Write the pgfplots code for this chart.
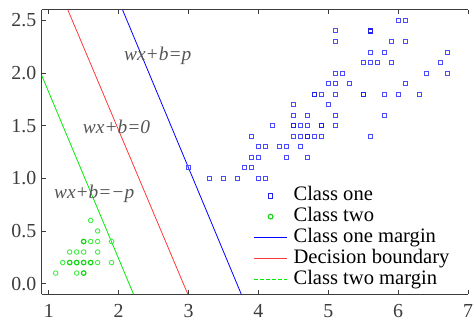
\documentclass[border=0pt]{standalone}
\usepackage{pgfplots}
\pgfplotsset{compat=1.18}
\usepackage{fontspec}
\setmainfont{Liberation Serif}
\definecolor{axgray}{RGB}{60,60,60}
\definecolor{txtgray}{RGB}{85,85,85}
\definecolor{cone}{RGB}{75,75,255}
\definecolor{conedark}{RGB}{35,35,235}
\definecolor{ctwo}{RGB}{60,235,60}
\definecolor{ctwodark}{RGB}{20,215,20}
\definecolor{mblue}{RGB}{0,0,255}
\definecolor{mred}{RGB}{255,55,55}
\definecolor{mgreen}{RGB}{0,235,0}
\begin{document}
\begin{tikzpicture}
\begin{axis}[
  scale only axis, width=429pt, height=286pt,
  xmin=0.9, xmax=7, ymin=-0.1, ymax=2.6,
  every non boxed y axis/.style={},
  axis x line*=box, axis y line*=left,
  y axis line style={-},
  axis line style={axgray, line width=1.1pt},
  xtick={1,2,3,4,5,6,7},
  xticklabels={1,2,3,4,5,6,7},
  ytick={0,0.5,1,1.5,2,2.5},
  yticklabels={0.0,0.5,1.0,1.5,2.0,2.5},
  tick align=inside, major tick length=4pt,
  tick style={axgray, line width=0.8pt},
  tick label style={font=\fontsize{20}{22}\selectfont\rmfamily, text=axgray},
  yticklabel style={inner sep=0pt, xshift=-5.3pt},
  xticklabel style={inner sep=0pt, yshift=-10pt},
  legend cell align=left,
  legend style={draw=none, fill=none, at={(0.4965,0.381)}, anchor=north west,
    inner sep=0pt, row sep=1.5pt, column sep=6pt,
    font=\fontsize{20.7}{22}\selectfont,
    nodes={inner sep=0pt, text height=15pt, text depth=4.5pt}},
]
\addplot[only marks, mark=square, mark size=2pt, mark options={draw=cone, fill=none, line width=1pt}, forget plot] coordinates {
(6.0,2.5)(6.1,2.5)
(5.1,2.4)(5.6,2.4)
(5.1,2.3)(5.9,2.3)(6.1,2.3)
(5.6,2.2)(5.8,2.2)(6.7,2.2)
(5.5,2.1)(5.6,2.1)(5.7,2.1)(5.9,2.1)(6.6,2.1)
(5.1,2.0)(5.2,2.0)(6.4,2.0)(6.7,2.0)
(5.0,1.9)(5.1,1.9)(5.3,1.9)(6.1,1.9)
(4.8,1.8)(4.9,1.8)(5.1,1.8)(5.5,1.8)(5.8,1.8)(6.0,1.8)(6.3,1.8)
(4.5,1.7)(5.0,1.7)
(4.5,1.6)(4.7,1.6)(5.1,1.6)(5.8,1.6)
(4.2,1.5)(4.5,1.5)(4.6,1.5)(4.7,1.5)(4.9,1.5)(5.1,1.5)
(3.9,1.4)(4.5,1.4)(4.6,1.4)(4.7,1.4)(4.8,1.4)(4.9,1.4)(5.6,1.4)
(4.0,1.3)(4.1,1.3)(4.3,1.3)(4.4,1.3)(4.6,1.3)
(3.9,1.2)(4.0,1.2)(4.4,1.2)(4.7,1.2)
(3.0,1.1)(3.8,1.1)(3.9,1.1)
(3.3,1.0)(3.5,1.0)(3.7,1.0)(4.0,1.0)(4.1,1.0)
};
% points that appear twice (drawn darker in the reference)
\addplot[only marks, mark=square, mark size=2pt, mark options={draw=conedark, fill=none, line width=1.1pt}, forget plot] coordinates {
(5.6,2.4)(4.8,1.8)(5.5,1.8)(4.5,1.5)(4.9,1.5)(4.7,1.4)
};
\addplot[only marks, mark=o, mark size=2.3pt, mark options={draw=ctwo, fill=none, line width=0.85pt}, forget plot] coordinates {
(1.6,0.6)
(1.7,0.5)
(1.5,0.4)(1.6,0.4)(1.7,0.4)(1.9,0.4)
(1.3,0.3)(1.4,0.3)(1.5,0.3)(1.7,0.3)
(1.2,0.2)(1.3,0.2)(1.4,0.2)(1.5,0.2)(1.6,0.2)(1.7,0.2)(1.9,0.2)
(1.1,0.1)(1.4,0.1)(1.5,0.1)
};
\addplot[only marks, mark=o, mark size=2.3pt, mark options={draw=ctwodark, fill=none, line width=1.05pt}, forget plot] coordinates {
(1.5,0.4)(1.3,0.2)(1.4,0.2)(1.5,0.2)(1.6,0.2)(1.5,0.1)
};
\addplot[draw=mblue, line width=0.8pt, forget plot] coordinates {(2.057,2.6)(3.755,-0.1)};
\addplot[draw=mred, line width=0.8pt, forget plot] coordinates {(1.274,2.6)(2.99,-0.1)};
\addplot[draw=mgreen, line width=0.8pt, forget plot] coordinates {(0.9,1.977)(2.213,-0.1)};
\addlegendimage{legend image code/.code={\draw[draw=conedark, line width=1.1pt] (14.2pt,-2.4pt) rectangle (18.8pt,2.4pt);}}
\addlegendentry{Class one}
\addlegendimage{legend image code/.code={\draw[draw=ctwodark, line width=1.1pt] (16.5pt,0pt) circle (2.4pt);}}
\addlegendentry{Class two}
\addlegendimage{legend image code/.code={\color{mblue}\draw[color=mblue, line width=1.2pt] (0pt,0pt) -- (33pt,0pt);}}
\addlegendentry{Class one margin}
\addlegendimage{legend image code/.code={\color{mred}\draw[color=mred, line width=1.2pt] (0pt,0pt) -- (33pt,0pt);}}
\addlegendentry{Decision boundary}
\addlegendimage{legend image code/.code={\color{mgreen}\draw[color=mgreen, line width=1.2pt, dash pattern=on 4pt off 2pt] (0pt,0pt) -- (33pt,0pt);}}
\addlegendentry{Class two margin}
\node[font=\fontsize{19.5}{21}\selectfont\itshape, text=txtgray] at (axis cs:2.56,2.16) {wx+b=p};
\node[font=\fontsize{19.5}{21}\selectfont\itshape, text=txtgray] at (axis cs:1.97,1.49) {wx+b=0};
\node[font=\fontsize{19.5}{21}\selectfont\itshape, text=txtgray] at (axis cs:1.65,0.855) {wx+b=−p};
\end{axis}
\path ([xshift=-42pt,yshift=-27pt]current axis.south west) rectangle ([xshift=2pt,yshift=10pt]current axis.north east);
\end{tikzpicture}
\end{document}
